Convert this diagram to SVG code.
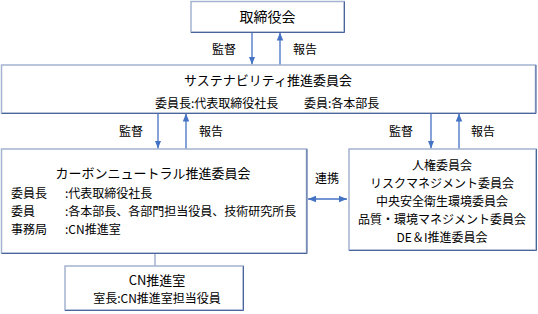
<svg xmlns="http://www.w3.org/2000/svg" width="538" height="314" viewBox="0 0 538 314">
<defs>
<style>
text{font-family:"Noto Sans CJK JP","Liberation Sans",sans-serif;fill:#000;font-size:12px}
.c{text-anchor:middle}
.box{fill:#fff;stroke:#a3b2d0;stroke-width:1.5}
.sh{fill:none;stroke:#4a649c;stroke-width:1}
.ar{stroke:#4472c4;stroke-width:1.3;fill:none}
</style>
<marker id="ah" viewBox="0 0 8 8" refX="8" refY="4" markerWidth="8" markerHeight="8" markerUnits="userSpaceOnUse" orient="auto-start-reverse">
<path d="M0,0.8 L8,4 L0,7.2 z" fill="#4472c4"/>
</marker>
</defs>

<g id="connectors">
<line class="ar" x1="252" y1="32" x2="252" y2="64.5" marker-end="url(#ah)"/>
<line class="ar" x1="280" y1="65" x2="280" y2="32.5" marker-end="url(#ah)"/>
<line class="ar" x1="158" y1="113" x2="158" y2="148.5" marker-end="url(#ah)"/>
<line class="ar" x1="186" y1="149" x2="186" y2="113.5" marker-end="url(#ah)"/>
<line class="ar" x1="431" y1="113" x2="431" y2="148.5" marker-end="url(#ah)"/>
<line class="ar" x1="459" y1="149" x2="459" y2="113.5" marker-end="url(#ah)"/>
<line class="ar" x1="308" y1="199" x2="347" y2="199" marker-start="url(#ah)" marker-end="url(#ah)"/>
<line x1="155" y1="253" x2="155" y2="266" stroke="#a3b2d0" stroke-width="1.5"/>
<text class="c" x="224" y="53.5">監督</text>
<text class="c" x="305" y="53.5">報告</text>
<text class="c" x="131" y="135.5">監督</text>
<text class="c" x="211" y="135.5">報告</text>
<text class="c" x="401" y="135.5">監督</text>
<text class="c" x="483" y="135.5">報告</text>
<text class="c" x="327" y="182.5">連携</text>
</g>

<g id="board">
<rect class="box" x="191" y="1.5" width="153" height="30.5"/>
<path class="sh" d="M191,32.5 H344.5 V1.5"/>
<text class="c" x="267.5" y="22" style="font-size:14px">取締役会</text>
</g>

<g id="sustainability">
<rect class="box" x="1.5" y="65" width="534" height="48"/>
<path class="sh" d="M1.5,113.5 H536 V65"/>
<text class="c" x="268" y="85" style="font-size:13px">サステナビリティ推進委員会</text>
<text x="155" y="107.5">委員長:代表取締役社長</text>
<text x="304" y="107.5">委員:各本部長</text>
</g>

<g id="cn-committee">
<rect class="box" x="1.5" y="149" width="305" height="104"/>
<path class="sh" d="M1.5,253.5 H307 V149"/>
<text class="c" x="153" y="178" style="font-size:13px">カーボンニュートラル推進委員会</text>
<text x="11" y="198">委員長</text>
<text x="65" y="198">:代表取締役社長</text>
<text x="11" y="216">委員</text>
<text x="65" y="216">:各本部長、各部門担当役員、技術研究所長</text>
<text x="11" y="234">事務局</text>
<text x="65" y="234">:CN推進室</text>
</g>

<g id="committees">
<rect class="box" x="349" y="149" width="187" height="101"/>
<path class="sh" d="M349,250.5 H536.5 V149"/>
<text class="c" x="442" y="169.5">人権委員会</text>
<text class="c" x="442" y="187.5">リスクマネジメント委員会</text>
<text class="c" x="442" y="205.5">中央安全衛生環境委員会</text>
<text class="c" x="442" y="223.5">品質・環境マネジメント委員会</text>
<text class="c" x="442" y="242">DE＆I推進委員会</text>
</g>

<g id="cn-office">
<rect class="box" x="65" y="266" width="178" height="44"/>
<path class="sh" d="M65,310.5 H243.5 V266"/>
<text class="c" x="157" y="285" style="font-size:13px">CN推進室</text>
<text class="c" x="157" y="302.5">室長:CN推進室担当役員</text>
</g>
</svg>
